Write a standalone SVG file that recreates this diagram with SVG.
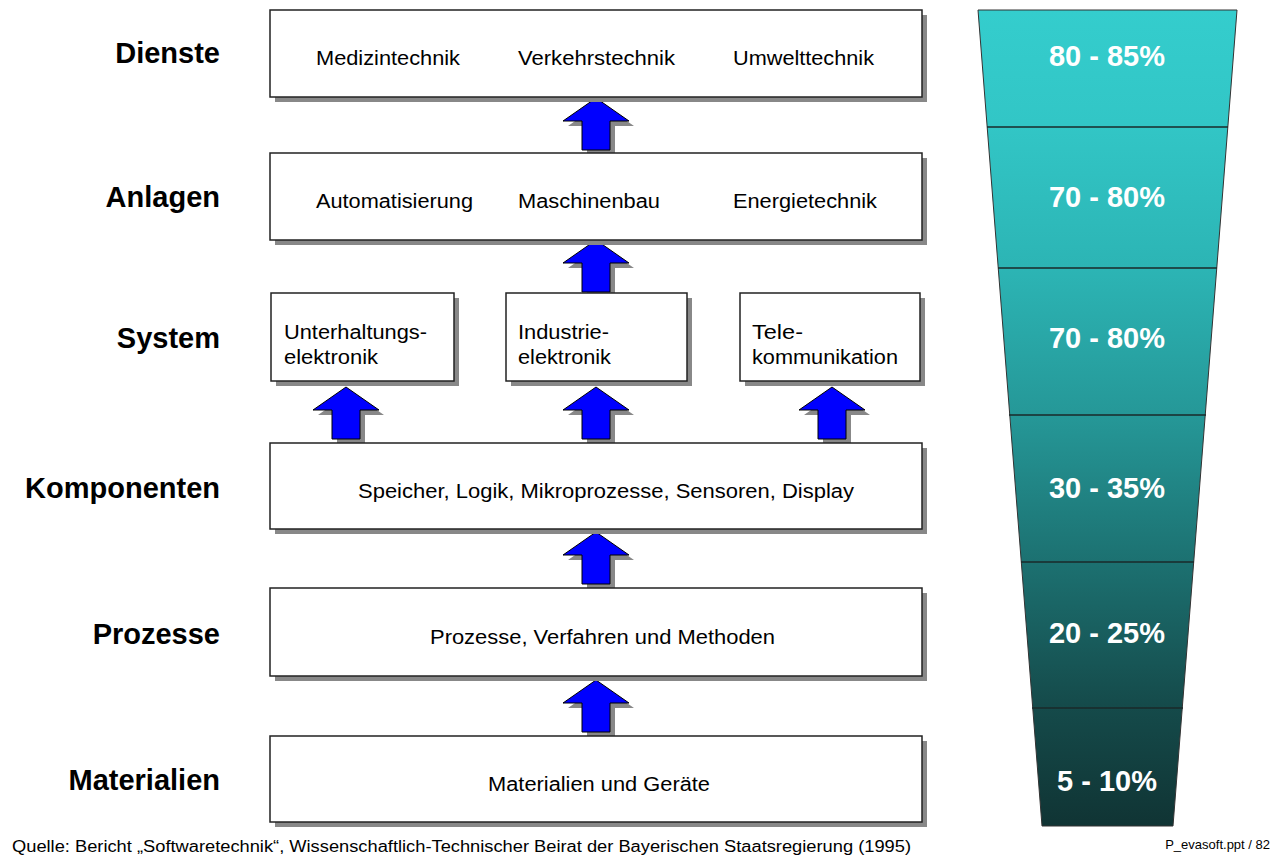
<svg xmlns="http://www.w3.org/2000/svg" width="1273" height="860" viewBox="0 0 1273 860">
<defs>
<style>
.box{fill:#fff;stroke:#222;stroke-width:1.5}
.sh{fill:#888}
.lbl{font-family:"Liberation Sans",Arial,sans-serif;font-weight:bold;font-size:29px;fill:#000;text-anchor:end}
.t{font-family:"Liberation Sans",Arial,sans-serif;font-size:20px;fill:#000}
.tc{font-family:"Liberation Sans",Arial,sans-serif;font-size:20px;fill:#000;text-anchor:middle}
.pct{font-family:"Liberation Sans",Arial,sans-serif;font-weight:bold;font-size:29px;fill:#fff;text-anchor:middle}
.arr{fill:#0000ff;stroke:#000;stroke-width:1}
.ash{fill:#888}
.seg{stroke:#1a2a2a;stroke-width:1.5}
</style>
<linearGradient id="fg" x1="0" y1="10" x2="0" y2="826" gradientUnits="userSpaceOnUse">
<stop offset="0" stop-color="#34cdcd"/>
<stop offset="0.14" stop-color="#32c6c6"/>
<stop offset="0.32" stop-color="#2cb4b4"/>
<stop offset="0.5" stop-color="#259797"/>
<stop offset="0.68" stop-color="#1c7070"/>
<stop offset="0.85" stop-color="#154b4b"/>
<stop offset="1" stop-color="#103434"/>
</linearGradient>
<path id="bigArrow" d="M0,0 L33,23 L14,23 L14,52 L-14,52 L-14,23 L-33,23 Z"/>
</defs>

<g id="labels">
<text class="lbl" x="220" y="63">Dienste</text>
<text class="lbl" x="220" y="207">Anlagen</text>
<text class="lbl" x="220" y="348">System</text>
<text class="lbl" x="220" y="498">Komponenten</text>
<text class="lbl" x="220" y="644">Prozesse</text>
<text class="lbl" x="220" y="790">Materialien</text>
</g>

<g id="connectors">
<use href="#bigArrow" class="ash" x="601" y="103"/>
<use href="#bigArrow" class="arr" x="596" y="98"/>
<use href="#bigArrow" class="ash" x="601" y="245"/>
<use href="#bigArrow" class="arr" x="596" y="240"/>
<use href="#bigArrow" class="ash" x="351" y="392"/>
<use href="#bigArrow" class="arr" x="346" y="387"/>
<use href="#bigArrow" class="ash" x="601" y="392"/>
<use href="#bigArrow" class="arr" x="596" y="387"/>
<use href="#bigArrow" class="ash" x="837" y="392"/>
<use href="#bigArrow" class="arr" x="832" y="387"/>
<use href="#bigArrow" class="ash" x="601" y="537"/>
<use href="#bigArrow" class="arr" x="596" y="532"/>
<use href="#bigArrow" class="ash" x="601" y="685"/>
<use href="#bigArrow" class="arr" x="596" y="680"/>
</g>

<g id="dienste">
<rect class="sh" x="275" y="15" width="652" height="87"/>
<rect class="box" x="270" y="10" width="652" height="87"/>
<text class="t" x="316" y="65" textLength="144" lengthAdjust="spacingAndGlyphs">Medizintechnik</text>
<text class="t" x="518" y="65" textLength="157" lengthAdjust="spacingAndGlyphs">Verkehrstechnik</text>
<text class="t" x="733" y="65" textLength="141" lengthAdjust="spacingAndGlyphs">Umwelttechnik</text>
</g>

<g id="anlagen">
<rect class="sh" x="275" y="158" width="652" height="87"/>
<rect class="box" x="270" y="153" width="652" height="87"/>
<text class="t" x="316" y="208" textLength="157" lengthAdjust="spacingAndGlyphs">Automatisierung</text>
<text class="t" x="518" y="208" textLength="142" lengthAdjust="spacingAndGlyphs">Maschinenbau</text>
<text class="t" x="733" y="208" textLength="144" lengthAdjust="spacingAndGlyphs">Energietechnik</text>
</g>

<g id="system1">
<rect class="sh" x="276" y="298" width="183" height="88"/>
<rect class="box" x="271" y="293" width="183" height="88"/>
<text class="t" x="284" y="339" textLength="143" lengthAdjust="spacingAndGlyphs">Unterhaltungs-</text>
<text class="t" x="284" y="364" textLength="94" lengthAdjust="spacingAndGlyphs">elektronik</text>
</g>
<g id="system2">
<rect class="sh" x="511" y="298" width="181" height="88"/>
<rect class="box" x="506" y="293" width="181" height="88"/>
<text class="t" x="518" y="339" textLength="91" lengthAdjust="spacingAndGlyphs">Industrie-</text>
<text class="t" x="518" y="364" textLength="93" lengthAdjust="spacingAndGlyphs">elektronik</text>
</g>
<g id="system3">
<rect class="sh" x="745" y="298" width="180" height="88"/>
<rect class="box" x="740" y="293" width="180" height="88"/>
<text class="t" x="752" y="339" textLength="51" lengthAdjust="spacingAndGlyphs">Tele-</text>
<text class="t" x="752" y="364" textLength="146" lengthAdjust="spacingAndGlyphs">kommunikation</text>
</g>

<g id="komponenten">
<rect class="sh" x="275" y="448" width="652" height="86"/>
<rect class="box" x="270" y="443" width="652" height="86"/>
<text class="t" x="358" y="498" textLength="496" lengthAdjust="spacingAndGlyphs">Speicher, Logik, Mikroprozesse, Sensoren, Display</text>
</g>

<g id="prozesse">
<rect class="sh" x="275" y="593" width="652" height="88"/>
<rect class="box" x="270" y="588" width="652" height="88"/>
<text class="t" x="430" y="644" textLength="345" lengthAdjust="spacingAndGlyphs">Prozesse, Verfahren und Methoden</text>
</g>

<g id="materialien">
<rect class="sh" x="275" y="741" width="652" height="86"/>
<rect class="box" x="270" y="736" width="652" height="86"/>
<text class="t" x="488" y="791" textLength="222" lengthAdjust="spacingAndGlyphs">Materialien und Geräte</text>
</g>

<g id="funnel">
<polygon points="978,10 1237,10 1173,826 1042,826" fill="url(#fg)" stroke="#333" stroke-width="1"/>
<line class="seg" x1="987" y1="127" x2="1228" y2="127"/>
<line class="seg" x1="998" y1="268" x2="1217" y2="268"/>
<line class="seg" x1="1009" y1="415" x2="1206" y2="415"/>
<line class="seg" x1="1021" y1="562" x2="1194" y2="562"/>
<line class="seg" x1="1032" y1="708" x2="1183" y2="708"/>
<text class="pct" x="1107" y="66">80 - 85%</text>
<text class="pct" x="1107" y="207">70 - 80%</text>
<text class="pct" x="1107" y="348">70 - 80%</text>
<text class="pct" x="1107" y="498">30 - 35%</text>
<text class="pct" x="1107" y="643">20 - 25%</text>
<text class="pct" x="1107" y="791">5 - 10%</text>
</g>

<g id="footer">
<text x="12" y="852" textLength="899" lengthAdjust="spacingAndGlyphs" style="font-family:'Liberation Sans',Arial,sans-serif;font-size:16px;fill:#000">Quelle: Bericht „Softwaretechnik“, Wissenschaftlich-Technischer Beirat der Bayerischen Staatsregierung (1995)</text>
<text x="1270" y="849" style="font-family:'Liberation Sans',Arial,sans-serif;font-size:13px;fill:#000;text-anchor:end">P_evasoft.ppt / 82</text>
</g>
</svg>
